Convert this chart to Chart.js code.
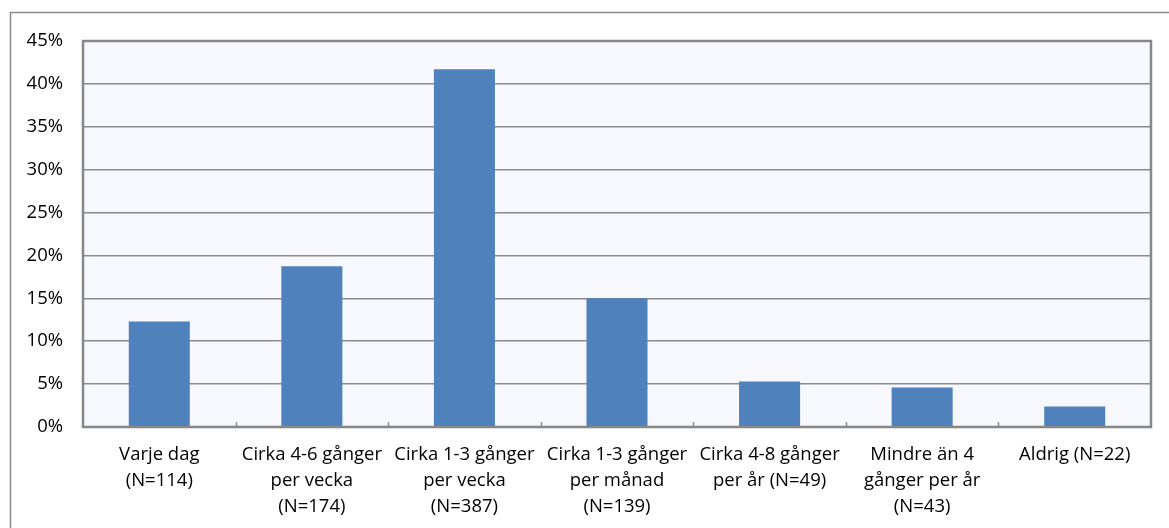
<!DOCTYPE html>
<html>
<head>
<meta charset="utf-8">
<script src="https://cdn.jsdelivr.net/npm/chart.js@4/dist/chart.umd.min.js"></script>
<style>
html,body{margin:0;padding:0;background:#fff;}
#wrap{width:1169px;height:528px;position:relative;}
</style>
</head>
<body>
<div id="wrap"><canvas id="c" width="1169" height="528"></canvas></div>
<script>
const categories = [
  ["Varje dag", "(N=114)"],
  ["Cirka 4-6 gånger", "per vecka", "(N=174)"],
  ["Cirka 1-3 gånger", "per vecka", "(N=387)"],
  ["Cirka 1-3 gånger", "per månad", "(N=139)"],
  ["Cirka 4-8 gånger", "per år (N=49)"],
  ["Mindre än 4", "gånger per år", "(N=43)"],
  ["Aldrig (N=22)"]
];
const values = [12.3, 18.75, 41.7, 15.0, 5.3, 4.6, 2.4];
const yMax = 45;
const yStep = 5;

const FONT = "'Open Sans', 'Noto Sans', sans-serif";

const decor = {
  id: 'decor',
  beforeDraw(chart) {
    const {ctx, chartArea: a} = chart;
    ctx.save();
    ctx.strokeStyle = '#8c8c8c';
    ctx.lineWidth = 1.5;
    ctx.strokeRect(10.5, 12.5, 1200, 600);
    ctx.fillStyle = '#F7F8FD';
    ctx.fillRect(a.left, a.top, a.right - a.left, a.bottom - a.top);
    ctx.restore();
  },
  afterDraw(chart) {
    const {ctx, chartArea: a} = chart;
    const xs = chart.scales.x;
    ctx.save();
    ctx.strokeStyle = '#8a8a8a';
    ctx.lineWidth = 1.5;
    for (let i = 0; i < categories.length - 1; i++) {
      const x = Math.round((xs.getPixelForValue(i) + xs.getPixelForValue(i + 1)) / 2) + 0.5;
      ctx.beginPath();
      ctx.moveTo(x, a.bottom);
      ctx.lineTo(x, a.bottom - 5);
      ctx.stroke();
    }
    ctx.lineWidth = 2.5;
    ctx.strokeStyle = '#878787';
    ctx.strokeRect(a.left, a.top, a.right - a.left, a.bottom - a.top);
    ctx.restore();
  }
};

new Chart(document.getElementById('c'), {
  type: 'bar',
  data: {
    labels: categories,
    datasets: [{
      data: values,
      backgroundColor: '#4F81BD',
      borderWidth: 0,
      categoryPercentage: 1.0,
      barPercentage: 0.4
    }]
  },
  options: {
    responsive: false,
    animation: false,
    devicePixelRatio: 1,
    layout: { padding: { left: 0, top: 41, right: 18, bottom: 0 } },
    plugins: { legend: { display: false }, tooltip: { enabled: false } },
    scales: {
      x: {
        afterFit(s) { s.height = 101; },
        grid: { display: false, drawTicks: false },
        border: { display: false },
        ticks: {
          color: '#000',
          maxRotation: 0,
          autoSkip: false,
          padding: 15,
          font: { family: FONT, size: 18.5, lineHeight: 1.4 }
        }
      },
      y: {
        min: 0,
        max: yMax,
        afterFit(s) { s.width = 83; },
        grid: { color: '#8a8a8a', lineWidth: 1.5, drawTicks: false },
        border: { display: false },
        ticks: {
          stepSize: yStep,
          color: '#000',
          padding: 20,
          font: { family: FONT, size: 18.5 },
          callback: v => v + '%'
        }
      }
    }
  },
  plugins: [decor]
});
</script>
</body>
</html>
